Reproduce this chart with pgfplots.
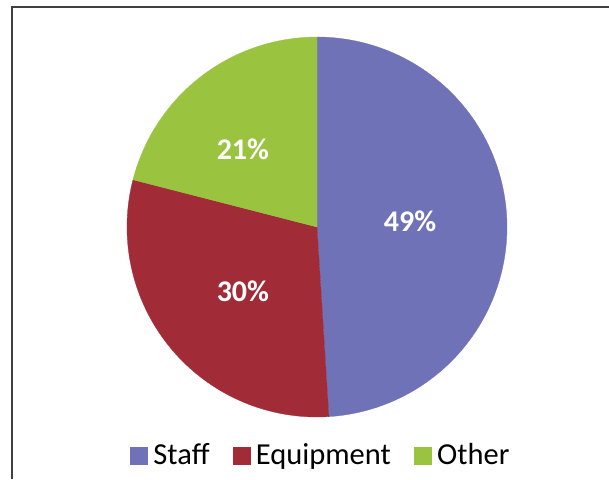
\documentclass[border=0pt]{standalone}
\usepackage{pgfplots}
\pgfplotsset{compat=1.18}
\usepackage{fontspec}
\setmainfont{Carlito}
\definecolor{cstaff}{HTML}{6F72B6}
\definecolor{cequip}{HTML}{A22B38}
\definecolor{cother}{HTML}{9AC33F}
% shares in percent
\def\vStaff{49}
\def\vEquip{30}
\def\vOther{21}
\pgfmathsetmacro{\aA}{90}
\pgfmathsetmacro{\aB}{90-3.6*\vStaff}
\pgfmathsetmacro{\aC}{\aB-3.6*\vEquip}
\pgfmathsetmacro{\aD}{\aC-3.6*\vOther}
\begin{document}
\begin{tikzpicture}[x=1pt,y=1pt]
\useasboundingbox (0,0) rectangle (609,479);
\draw[line width=2pt, black!75] (11.5,0) -- (11.5,472) -- (609,472);
\begin{axis}[
  at={(317pt,252pt)}, anchor=center,
  scale only axis, width=380pt, height=380pt,
  xmin=-1, xmax=1, ymin=-1, ymax=1,
  hide axis, clip=false,
  samples=120,
  legend columns=3,
  legend style={draw=none, fill=none, at={(0.51,-0.1)}, anchor=center,
    font=\fontsize{30.5}{32}\selectfont,
    /tikz/every even column/.append style={column sep=21pt},
    /tikz/every odd column/.append style={column sep=4pt}},
  legend image code/.code={\fill[#1] (0pt,-9pt) rectangle (17pt,8pt);},
]
\addplot[fill=cstaff, draw=cstaff, line width=0.3pt, domain=\aB:\aA] ({cos(x)},{sin(x)}) -- (axis cs:0,0) -- cycle;
\addlegendentry{Staff}
\addplot[fill=cequip, draw=cequip, line width=0.3pt, domain=\aC:\aB] ({cos(x)},{sin(x)}) -- (axis cs:0,0) -- cycle;
\addlegendentry{Equipment}
\addplot[fill=cother, draw=cother, line width=0.3pt, domain=\aD:\aC] ({cos(x)},{sin(x)}) -- (axis cs:0,0) -- cycle;
\addlegendentry{Other}
\node[white, font=\bfseries\fontsize{30}{32}\selectfont] at (axis cs:0.49,0.03) {49\%};
\node[white, font=\bfseries\fontsize{30}{32}\selectfont] at (axis cs:-0.39,-0.34) {30\%};
\node[white, font=\bfseries\fontsize{30}{32}\selectfont] at (axis cs:-0.39,0.41) {21\%};
\end{axis}
\end{tikzpicture}
\end{document}
